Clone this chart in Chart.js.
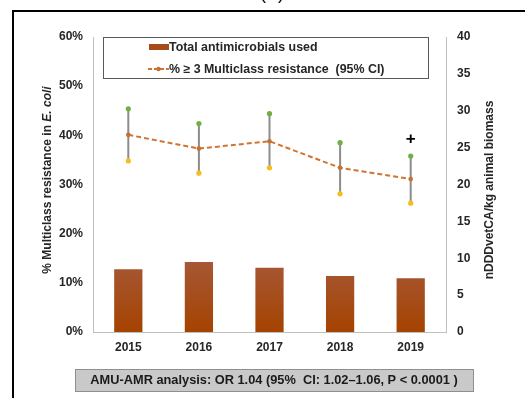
<!DOCTYPE html>
<html>
<head>
<meta charset="utf-8">
<script src="https://cdn.jsdelivr.net/npm/chart.js@4"></script>
<style>
  html, body { margin: 0; padding: 0; background: #fff; }
  #wrap { width: 525px; height: 398px; position: relative; }
</style>
</head>
<body>
<div id="wrap"><canvas id="c" width="525" height="398"></canvas></div>
<script>
// Years on the x axis
const years = ['2015', '2016', '2017', '2018', '2019'];
// Total antimicrobials used (nDDDvetCA/kg animal biomass)
const amuUsed = [8.5, 9.5, 8.7, 7.6, 7.3];
// % of E. coli isolates resistant to >= 3 classes, with 95% CI
const mdrPct = [40.1, 37.3, 38.8, 33.4, 31.1];
const mdrUpper = [45.4, 42.4, 44.4, 38.5, 35.8];
const mdrLower = [34.8, 32.3, 33.4, 28.1, 26.2];
// Years flagged with a marker above the CI
const flagged = ['2019'];
const flagText = '+';
const flagLevel = 39.2;
// Texts
const legendLabels = ['Total antimicrobials used', '% \u2265 3 Multiclass resistance  (95% CI)'];
const leftTitle = ['% Multiclass resistance in ', 'E. coli'];
const rightTitle = 'nDDDvetCA/kg animal biomass';
const footnote = 'AMU-AMR analysis: OR 1.04 (95%  CI: 1.02\u20131.06, P < 0.0001 )';
const panelTag = '(A)';

const FONT = '"Liberation Sans", Arial, sans-serif';
const TXT = '#262626';
const FS = 12;

function barGradient(ctx) {
  const chart = ctx.chart;
  const area = chart.chartArea;
  if (!area) return '#a64a10';
  const y1 = chart.scales.y1;
  const g = chart.ctx.createLinearGradient(0, y1.getPixelForValue(10), 0, area.bottom);
  g.addColorStop(0, '#a65838');
  g.addColorStop(1, '#a54300');
  return g;
}

const decor = {
  id: 'decor',
  beforeDraw(chart) {
    const c = chart.ctx;
    c.save();
    // outer panel frame
    c.strokeStyle = '#000';
    c.lineWidth = 2;
    c.strokeRect(13, 11, 530, 400);
    // panel tag
    c.fillStyle = '#000';
    c.font = '18px ' + FONT;
    c.textAlign = 'center';
    c.textBaseline = 'alphabetic';
    c.fillText(panelTag, 272, -1.5);
    c.restore();
  },
  beforeDatasetsDraw(chart) {
    const c = chart.ctx;
    const x = chart.scales.x, y = chart.scales.y;
    c.save();
    c.strokeStyle = '#8c8c8c';
    c.lineWidth = 2;
    years.forEach((yr, i) => {
      const px = x.getPixelForValue(i);
      c.beginPath();
      c.moveTo(px, y.getPixelForValue(mdrUpper[i]));
      c.lineTo(px, y.getPixelForValue(mdrLower[i]));
      c.stroke();
    });
    c.restore();
  },
  afterDraw(chart) {
    const c = chart.ctx;
    const x = chart.scales.x, y = chart.scales.y;
    c.save();
    // flag markers
    c.fillStyle = '#000';
    c.font = 'bold 17px ' + FONT;
    c.textAlign = 'center';
    c.textBaseline = 'middle';
    flagged.forEach(yr => {
      const i = years.indexOf(yr);
      c.fillText(flagText, x.getPixelForValue(i), y.getPixelForValue(flagLevel));
    });

    // legend box
    c.strokeStyle = '#595959';
    c.lineWidth = 1;
    c.fillStyle = '#fff';
    c.fillRect(103, 37, 325, 41);
    c.strokeRect(103.5, 37.5, 325, 41);
    c.fillStyle = '#a64c1c';
    c.fillRect(149, 44, 20, 6);
    c.strokeStyle = '#d07434';
    c.lineWidth = 2;
    c.setLineDash([4, 2]);
    c.beginPath();
    c.moveTo(148, 69);
    c.lineTo(169, 69);
    c.stroke();
    c.setLineDash([]);
    c.fillStyle = '#c8702e';
    c.beginPath();
    c.arc(158.5, 69, 2.2, 0, Math.PI * 2);
    c.fill();
    c.fillStyle = TXT;
    c.font = 'bold 12.4px ' + FONT;
    c.textAlign = 'left';
    c.textBaseline = 'middle';
    c.fillText(legendLabels[0], 169, 47.5);
    c.fillText(legendLabels[1], 169, 69.5);

    // left axis title, mixed roman/italic
    c.save();
    c.translate(48, 180);
    c.rotate(-Math.PI / 2);
    c.textBaseline = 'middle';
    c.font = 'bold ' + FS + 'px ' + FONT;
    const w1 = c.measureText(leftTitle[0]).width;
    c.font = 'bold italic ' + FS + 'px ' + FONT;
    const w2 = c.measureText(leftTitle[1]).width;
    const sx = -(w1 + w2) / 2;
    c.textAlign = 'left';
    c.font = 'bold ' + FS + 'px ' + FONT;
    c.fillText(leftTitle[0], sx, 0);
    c.font = 'bold italic ' + FS + 'px ' + FONT;
    c.fillText(leftTitle[1], sx + w1, 0);
    c.restore();

    // right axis title
    c.save();
    c.translate(490, 190);
    c.rotate(-Math.PI / 2);
    c.textBaseline = 'middle';
    c.font = 'bold ' + FS + 'px ' + FONT;
    c.textAlign = 'center';
    c.fillText(rightTitle, 0, 0);
    c.restore();

    // footnote box
    c.fillStyle = '#c9c9c9';
    c.fillRect(75, 369, 398, 22);
    c.strokeStyle = '#8f8f8f';
    c.lineWidth = 1;
    c.strokeRect(75.5, 369.5, 398, 22);
    c.fillStyle = '#1a1a1a';
    c.font = 'bold 12.8px ' + FONT;
    c.textAlign = 'center';
    c.textBaseline = 'middle';
    c.fillText(footnote, 274, 380.5);
    c.restore();
  }
};

new Chart(document.getElementById('c'), {
  data: {
    labels: years,
    datasets: [
      {
        type: 'line',
        label: 'upper',
        data: mdrUpper,
        yAxisID: 'y',
        showLine: false,
        pointRadius: 2.6,
        pointBackgroundColor: '#6fb045',
        pointBorderWidth: 0,
        order: 1
      },
      {
        type: 'line',
        label: 'lower',
        data: mdrLower,
        yAxisID: 'y',
        showLine: false,
        pointRadius: 2.6,
        pointBackgroundColor: '#f6be1c',
        pointBorderWidth: 0,
        order: 1
      },
      {
        type: 'line',
        label: legendLabels[1],
        data: mdrPct,
        yAxisID: 'y',
        borderColor: '#d07434',
        borderWidth: 2,
        borderDash: [5, 3],
        tension: 0,
        pointRadius: 2.3,
        pointBackgroundColor: '#c8702e',
        pointBorderWidth: 0,
        order: 0
      },
      {
        type: 'bar',
        label: legendLabels[0],
        data: amuUsed,
        yAxisID: 'y1',
        backgroundColor: barGradient,
        borderWidth: 0,
        barPercentage: 0.4,
        categoryPercentage: 1,
        order: 3
      }
    ]
  },
  options: {
    responsive: false,
    animation: false,
    layout: { padding: { top: 37, left: 0, right: 0, bottom: 0 } },
    plugins: { legend: { display: false }, tooltip: { enabled: false } },
    scales: {
      x: {
        offset: true,
        grid: { display: false, drawTicks: false },
        border: { color: '#bfbfbf', width: 1 },
        ticks: { color: TXT, font: { family: FONT, size: FS, weight: 'bold' }, padding: 8 },
        afterFit(s) { s.height = 66; }
      },
      y: {
        position: 'left',
        min: 0, max: 60,
        grid: { display: false, drawTicks: false },
        border: { color: '#bfbfbf', width: 1 },
        ticks: {
          stepSize: 10,
          color: TXT,
          padding: 10,
          font: { family: FONT, size: FS, weight: 'bold' },
          callback: v => v + '%'
        },
        afterFit(s) { s.width = 93; }
      },
      y1: {
        position: 'right',
        min: 0, max: 40,
        grid: { display: false, drawTicks: false },
        border: { color: '#bfbfbf', width: 1 },
        ticks: {
          stepSize: 5,
          color: TXT,
          padding: 11,
          font: { family: FONT, size: FS, weight: 'bold' }
        },
        afterFit(s) { s.width = 79; }
      }
    }
  },
  plugins: [decor]
});
</script>
</body>
</html>
